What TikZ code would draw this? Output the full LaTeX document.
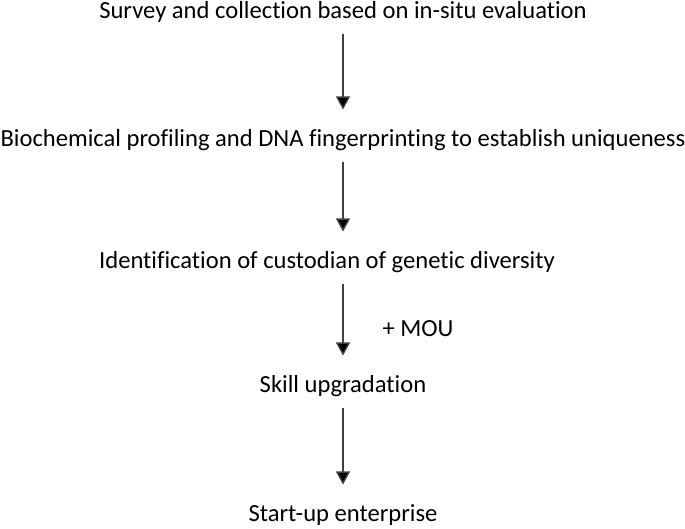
\documentclass[tikz,border=0pt]{standalone}
\usepackage{fontspec}
\setmainfont[Ligatures=NoCommon]{Carlito}
\usetikzlibrary{arrows.meta}
\tikzstyle{stage}=[inner sep=0pt,text height=11pt,text depth=3.3pt,font=\fontsize{14}{17}\selectfont]
\tikzstyle{flow}=[draw,line width=0.8pt,black!75,shorten <=5pt,shorten >=10pt,-{Triangle[length=7.5pt,width=8pt,fill=black]}]

\begin{document}
\begin{tikzpicture}[x=0.02cm,y=-0.02cm]
    \useasboundingbox (0,0) rectangle (685,528);
	\foreach \pos/\name/\txt in {{(343,12)/survey/Survey and collection based on in-situ evaluation},
                            {(343,140)/profiling/Biochemical profiling and DNA fingerprinting to establish uniqueness},
                            {(327,262)/custodian/Identification of custodian of genetic diversity},
                            {(343,386)/skill/Skill upgradation},
                            {(343,515)/startup/Start-up enterprise}}
        \node[stage] (\name) at \pos {\txt};
    \foreach \source / \dest in {survey/profiling, profiling/custodian, skill/startup}
        \path[flow] (\source.south -| survey) -- (\dest.north -| survey);
    \path[flow] (custodian.south -| skill.south) -- (skill);
    \node[stage] (mou) at (418,330) {+ MOU};
\end{tikzpicture}
\end{document}
